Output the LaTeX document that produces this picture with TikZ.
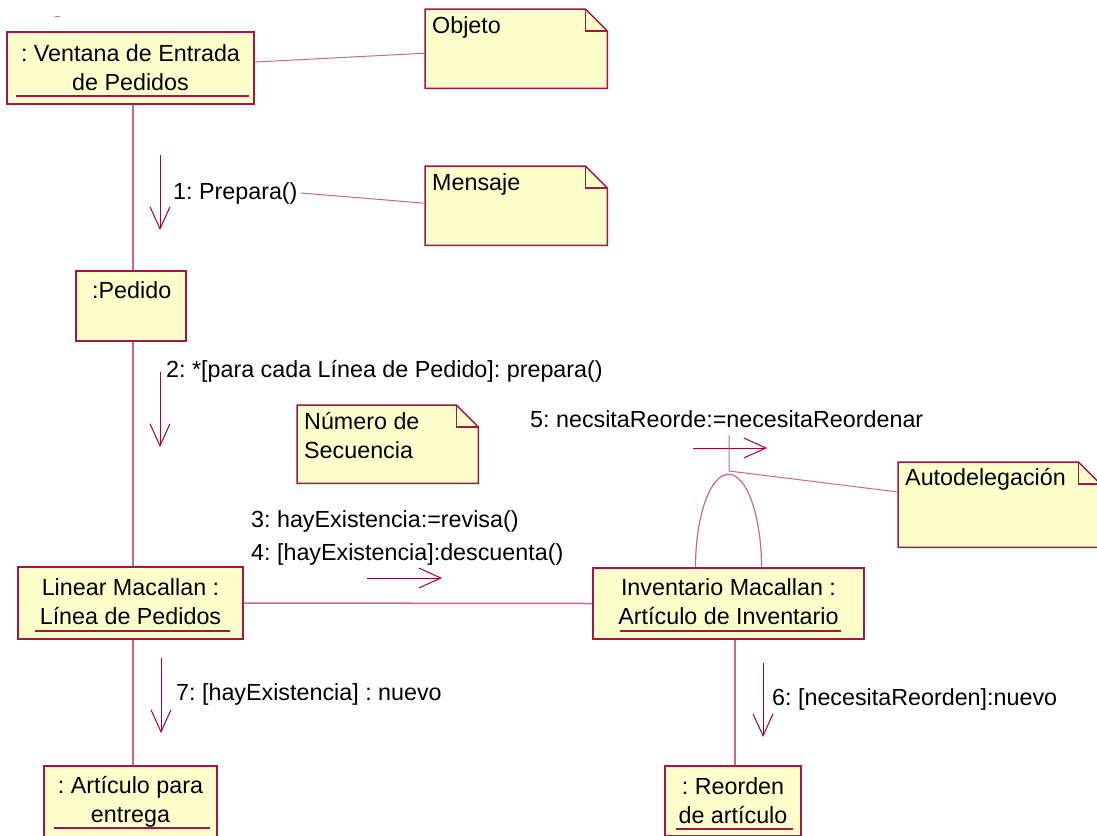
\documentclass[tikz,border=0pt]{standalone}
\usepackage{fontspec}
\setmainfont{Liberation Sans}
\usetikzlibrary{arrows.meta,backgrounds}
\definecolor{objfill}{RGB}{255,255,204}
\definecolor{objedge}{RGB}{165,20,70}
\definecolor{linkpink}{RGB}{200,105,140}
\definecolor{msgred}{RGB}{160,0,60}
\frenchspacing

% UML note outline with a folded top-right corner
\newcommand\drawnote[1]{%
  \filldraw[noteedge] (#1.north west) -- ([xshift=-22pt]#1.north east)
    -- ([yshift=-22pt]#1.north east) -- (#1.south east) -- (#1.south west) -- cycle;
  \draw[noteedge, fill=none] ([xshift=-22pt]#1.north east)
    -- ([xshift=-22pt,yshift=-22pt]#1.north east) -- ([yshift=-22pt]#1.north east);}

\begin{document}
\begin{tikzpicture}[x=1pt,y=-1pt,
  every node/.style={font=\fontsize{23.3}{29}\selectfont, inner sep=0pt, text=black},
  objbox/.style={draw=objedge, fill=objfill, line width=1.5pt, align=center},
  notearea/.style={anchor=north west},
  noteedge/.style={draw=objedge, fill=objfill, line width=1.5pt},
  notetext/.style={anchor=north west, align=left, text height=16.8pt},
  msg/.style={anchor=base west},
  link/.style={draw=linkpink, line width=1.5pt},
  notelink/.style={draw=linkpink, line width=1pt},
  uline/.style={draw=objedge, line width=1.2pt},
  msgarrow/.style={draw=msgred, line width=1pt, -{Straight Barb[length=22pt,width=20pt]}},
]
\useasboundingbox (0,0) rectangle (1097,835);
\begin{scope}[on background layer]
  \fill[white] (0,0) rectangle (1097,835);
\end{scope}

% object boxes
\node[objbox, minimum width=247pt, minimum height=72pt] (ventana) at (130.5,68) {: Ventana de Entrada\\de Pedidos};
\node[objbox, minimum width=110pt, minimum height=70pt] (pedido) at (131,306) {};
\node[msg] (pedidotxt) at (92,298) {:Pedido};
\node[objbox, minimum width=225pt, minimum height=72pt, text depth=3pt] (linear) at (130.5,603) {Linear Macallan :\\Línea de Pedidos};
\node[objbox, minimum width=271pt, minimum height=71pt, text depth=4pt] (inventario) at (728.5,603.5) {Inventario Macallan :\\Artículo de Inventario};
\node[objbox, minimum width=173pt, minimum height=72pt] (articulo) at (130.5,802) {: Artículo para\\entrega};
\node[objbox, minimum width=136pt, minimum height=70pt] (reorden) at (733,801) {: Reorden\\de artículo};

% underlined object names
\draw[uline] (16,96) -- (249,96);
\draw[uline] (35,631) -- (230,631);
\draw[uline] (620,631) -- (841,631);
\draw[uline] (54,828) -- (210,828);
\draw[uline] (676,829) -- (793,829);

% notes
\node[notearea, minimum width=182pt, minimum height=79pt] (objeto) at (425,9) {};
\drawnote{objeto}
\node[notetext] (objetotxt) at (432,16.2) {Objeto};
\node[notearea, minimum width=182pt, minimum height=79pt] (mensaje) at (425,166) {};
\drawnote{mensaje}
\node[notetext] (mensajetxt) at (432,173.2) {Mensaje};
\node[notearea, minimum width=181pt, minimum height=78pt] (numero) at (297,405) {};
\drawnote{numero}
\node[notetext, text height=45.8pt] (numerotxt) at (304,412.2) {Número de\\Secuencia};
\node[notearea, minimum width=202pt, minimum height=85pt] (autodeleg) at (898,462) {};
\drawnote{autodeleg}
\node[notetext] (autodelegtxt) at (905,468.2) {Autodelegación};

% message labels
\node[msg] (m1) at (173,199) {1: Prepara()};
\node[msg] (m2) at (166,377) {2: *[para cada Línea de Pedido]: prepara()};
\node[msg] (m3) at (251,527) {3: hayExistencia:=revisa()};
\node[msg] (m4) at (251,560) {4: [hayExistencia]:descuenta()};
\node[msg] (m5) at (530,427) {5: necsitaReorde:=necesitaReordenar};
\node[msg] (m6) at (772,705) {6: [necesitaReorden]:nuevo};
\node[msg] (m7) at (176,700) {7: [hayExistencia] : nuevo};

% links between objects
\coordinate (spineL) at (133,0);
\coordinate (spineR) at (735,0);
\begin{scope}[on background layer]
  \draw[link] (ventana.south -| spineL) -- (pedido.north -| spineL);
  \draw[link] (pedido.south -| spineL) -- (linear.north -| spineL);
  \draw[link] (linear.south -| spineL) -- (articulo.north -| spineL);
  \draw[link] (linear.east) -- (inventario.west);
  \draw[link] (inventario.south -| spineR) -- (reorden.north -| spineR);
  \draw[link, line width=1.2pt] ([xshift=-33pt]inventario.north)
    arc[start angle=180, end angle=0, x radius=33pt, y radius=93pt];
\end{scope}

% note anchors
\draw[notelink] ([yshift=6pt]ventana.east) -- ([yshift=-4.5pt]objeto.west);
\draw[notelink] ([xshift=3pt]m1.east) -- ([yshift=2.5pt]mensaje.west);
\coordinate (selftick) at (729,435);
\coordinate (selfbend) at (729,471);
\draw[notelink] (selftick) -- (selfbend) -- ([yshift=-30pt]autodeleg.north west);
\coordinate (stray) at (55,16);
\draw[notelink] (stray) -- ++(5,0);

% message arrows
\coordinate (a1s) at (160,155);  \coordinate (a1e) at (160,230);
\coordinate (a2s) at (160,372);  \coordinate (a2e) at (160,447);
\coordinate (a3s) at (367,578);  \coordinate (a3e) at (442,578);
\coordinate (a5s) at (693,448);  \coordinate (a5e) at (767,448);
\coordinate (a6s) at (763,663);  \coordinate (a6e) at (763,737);
\coordinate (a7s) at (161,658);  \coordinate (a7e) at (161,733);
\draw[msgarrow] (a1s) -- (a1e);
\draw[msgarrow] (a2s) -- (a2e);
\draw[msgarrow] (a3s) -- (a3e);
\draw[msgarrow] (a5s) -- (a5e);
\draw[msgarrow] (a6s) -- (a6e);
\draw[msgarrow] (a7s) -- (a7e);
\end{tikzpicture}
\end{document}
